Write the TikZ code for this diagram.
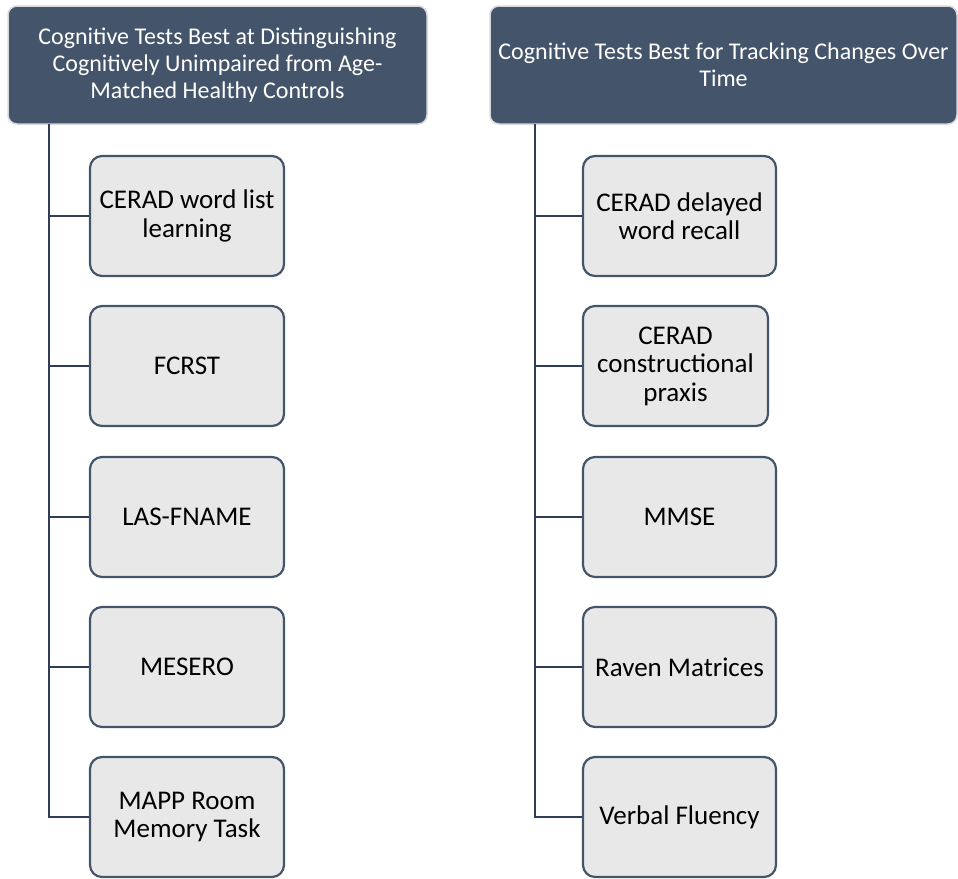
\documentclass[tikz,border=0pt]{standalone}
\usepackage{fontspec}
\setmainfont{Carlito}
\definecolor{navy}{HTML}{44546A}
\definecolor{navyline}{HTML}{2F3D56}
\definecolor{boxfill}{HTML}{E8E8E8}
\definecolor{hdrborder}{HTML}{D6D8DC}
\tikzset{
  hdr/.style={draw=hdrborder, line width=1.5pt, fill=navy, rounded corners=9pt,
    text=white, align=center, inner sep=0pt, minimum height=118pt,
    font=\fontsize{24}{26.6}\selectfont},
  testbox/.style={draw=navy, line width=2.2pt, fill=boxfill, rounded corners=12pt,
    text=black, align=center, inner sep=0pt, minimum height=120pt,
    font=\fontsize{27}{28.5}\selectfont},
  conn/.style={draw=navyline, line width=2.5pt}
}
\begin{document}
\begin{tikzpicture}[x=1pt,y=-1pt]
\useasboundingbox (0,0) rectangle (958,878);
% headers
\node[hdr, minimum width=419pt] (hl) at (217.5,65) {Cognitive Tests Best at Distinguishing\\Cognitively Unimpaired from Age-\\Matched Healthy Controls};
\node[hdr, minimum width=467pt] (hr) at (723.5,65) {Cognitive Tests Best for Tracking Changes Over\\Time};
% trunk tops
\coordinate (tl) at (49,124);
\coordinate (tr) at (535,124);
% left boxes
\node[testbox, minimum width=194pt] (l1) at (187,216) {CERAD word list\\learning};
\node[testbox, minimum width=194pt] (l2) at (187,366) {FCRST};
\node[testbox, minimum width=194pt] (l3) at (187,517) {LAS-FNAME};
\node[testbox, minimum width=194pt] (l4) at (187,667) {MESERO};
\node[testbox, minimum width=194pt] (l5) at (187,817) {MAPP Room\\Memory Task};
% right boxes
\node[testbox, minimum width=193pt] (r1) at (679.5,216) {CERAD delayed\\word recall};
\node[testbox, minimum width=185pt] (r2) at (675.5,366) {CERAD\\constructional\\praxis};
\node[testbox, minimum width=193pt] (r3) at (679.5,517) {MMSE};
\node[testbox, minimum width=193pt] (r4) at (679.5,667) {Raven Matrices};
\node[testbox, minimum width=193pt] (r5) at (679.5,817) {Verbal Fluency};
% connectors
\draw[conn] (tl) |- (l5.west);
\foreach \b in {l1,l2,l3,l4} \draw[conn] (\b.west) -- (\b.west -| tl);
\draw[conn] (tr) |- (r5.west);
\foreach \b in {r1,r2,r3,r4} \draw[conn] (\b.west) -- (\b.west -| tr);
\end{tikzpicture}
\end{document}
